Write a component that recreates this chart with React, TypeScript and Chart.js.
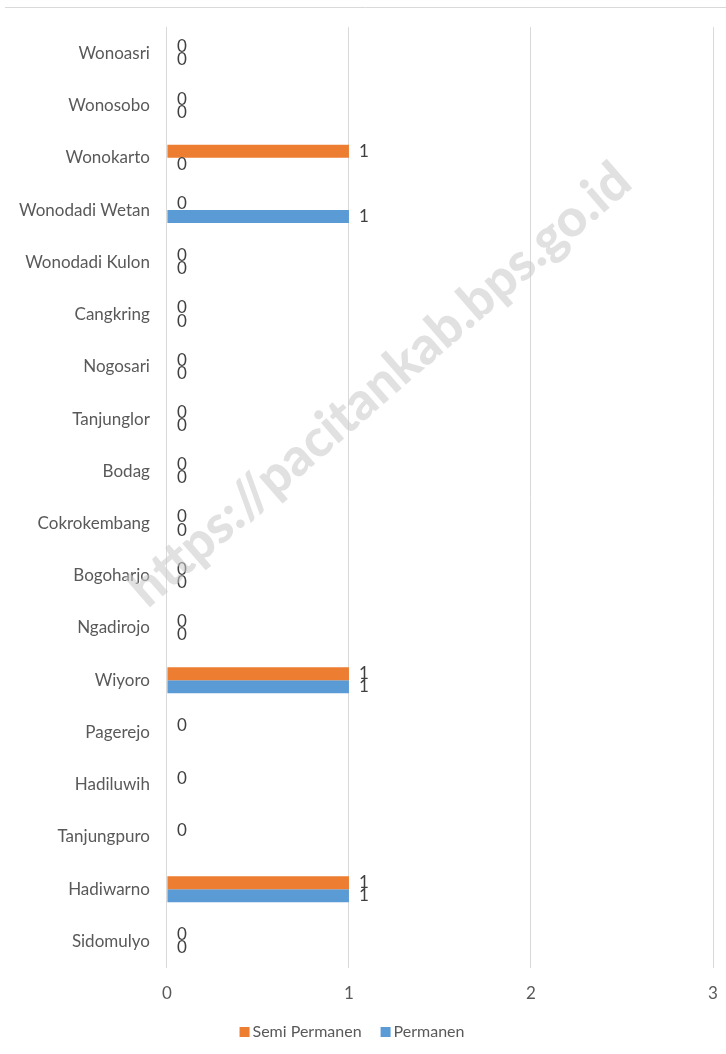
import React, { useEffect, useRef } from "react";
import { Chart, registerables } from "chart.js";

Chart.register(...registerables);

const categories = [
  "Wonoasri",
  "Wonosobo",
  "Wonokarto",
  "Wonodadi Wetan",
  "Wonodadi Kulon",
  "Cangkring",
  "Nogosari",
  "Tanjunglor",
  "Bodag",
  "Cokrokembang",
  "Bogoharjo",
  "Ngadirojo",
  "Wiyoro",
  "Pagerejo",
  "Hadiluwih",
  "Tanjungpuro",
  "Hadiwarno",
  "Sidomulyo",
];

const semiPermanen: (number | null)[] = [0, 0, 1, 0, 0, 0, 0, 0, 0, 0, 0, 0, 1, 0, 0, 0, 1, 0];
const permanen: (number | null)[] = [0, 0, 0, 1, 0, 0, 0, 0, 0, 0, 0, 0, 1, null, null, null, 1, 0];

const xTicks = [0, 1, 2, 3];

const FONT = "Lato, 'Open Sans', sans-serif";

const labelPlugin = {
  id: "valueLabels",
  afterDatasetsDraw(chart: any) {
    const ctx = chart.ctx;
    ctx.save();
    ctx.font = `17px ${FONT}`;
    ctx.fillStyle = "#404040";
    ctx.textAlign = "left";
    ctx.textBaseline = "middle";
    chart.data.datasets.forEach((ds: any, di: number) => {
      const meta = chart.getDatasetMeta(di);
      meta.data.forEach((el: any, i: number) => {
        const v = ds.data[i];
        if (v === null || v === undefined) return;
        ctx.fillText(String(v), el.x + 10, el.y);
      });
    });
    ctx.restore();
  },
};

const legendPlugin = {
  id: "customLegend",
  afterDraw(chart: any) {
    const ctx = chart.ctx;
    ctx.save();
    ctx.font = `16px ${FONT}`;
    ctx.textBaseline = "middle";
    ctx.textAlign = "left";
    const box = 10;
    const gapText = 3;
    const gapItem = 19;
    const items = chart.data.datasets.map((ds: any) => ({
      label: ds.label,
      color: ds.backgroundColor,
      w: ctx.measureText(ds.label).width,
    }));
    const total = items.reduce((s: number, it: any) => s + box + gapText + it.w, 0) + gapItem * (items.length - 1);
    let x = 352 - total / 2;
    const y = 1032;
    items.forEach((it: any) => {
      ctx.fillStyle = it.color;
      ctx.fillRect(x, y - box / 2, box, box);
      ctx.fillStyle = "#595959";
      ctx.fillText(it.label, x + box + gapText, y);
      x += box + gapText + it.w + gapItem;
    });
    ctx.restore();
  },
};

const decorPlugin = {
  id: "decor",
  beforeDraw(chart: any) {
    const ctx = chart.ctx;
    ctx.save();
    ctx.strokeStyle = "#d9d9d9";
    ctx.lineWidth = 1;
    ctx.beginPath();
    ctx.moveTo(5, 7.5);
    ctx.lineTo(chart.width, 7.5);
    ctx.stroke();
    ctx.restore();
  },
  afterDatasetsDraw(chart: any) {
    const ctx = chart.ctx;
    ctx.save();
    const text = "https://pacitankab.bps.go.id";
    ctx.font = `900 40px ${FONT}`;
    const w = ctx.measureText(text).width;
    const target = 645;
    const size = 40 * (target / w);
    ctx.font = `900 ${size}px ${FONT}`;
    ctx.fillStyle = "rgba(200,200,200,0.55)";
    ctx.textAlign = "center";
    ctx.textBaseline = "middle";
    ctx.translate(380, 385);
    ctx.rotate((-41 * Math.PI) / 180);
    ctx.fillText(text, 0, 0);
    ctx.restore();
  },
};

export default function App() {
  const ref = useRef<HTMLCanvasElement | null>(null);
  useEffect(() => {
    document.body.style.margin = "0";
    if (!ref.current) return;
    const chart = new Chart(ref.current, {
      type: "bar",
      data: {
        labels: categories,
        datasets: [
          {
            label: "Semi Permanen",
            data: semiPermanen as any,
            backgroundColor: "#ED7D31",
            categoryPercentage: 0.5,
            barPercentage: 1,
          },
          {
            label: "Permanen",
            data: permanen as any,
            backgroundColor: "#5B9BD5",
            categoryPercentage: 0.5,
            barPercentage: 1,
          },
        ],
      },
      options: {
        indexAxis: "y",
        animation: false,
        responsive: false,
        maintainAspectRatio: false,
        layout: { padding: { left: 2, right: 13, top: 25, bottom: 34 } },
        scales: {
          x: {
            min: 0,
            max: 3,
            afterBuildTicks(axis: any) {
              axis.ticks = xTicks.map((v) => ({ value: v }));
            },
            afterFit(scale: any) {
              scale.paddingRight = 0;
              scale.paddingLeft = 0;
            },
            grid: { color: "#d9d9d9", drawTicks: false },
            border: { display: false },
            ticks: {
              padding: 16,
              color: "#595959",
              font: { family: FONT, size: 17 },
            },
          },
          y: {
            grid: { display: false, drawTicks: false },
            border: { display: true, color: "#d9d9d9" },
            ticks: {
              padding: 17,
              color: "#595959",
              font: { family: FONT, size: 17 },
            },
          },
        },
        plugins: {
          legend: { display: false },
          tooltip: { enabled: false },
        },
      },
      plugins: [labelPlugin, decorPlugin, legendPlugin],
    });
    return () => chart.destroy();
  }, []);
  return <canvas ref={ref} width={726} height={1054} style={{ display: "block" }} />;
}
